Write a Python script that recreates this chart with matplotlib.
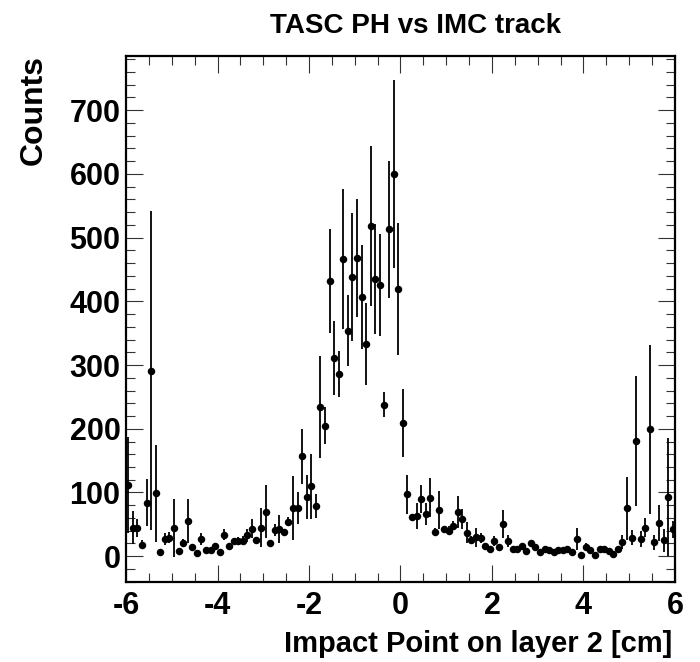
import numpy as np
import matplotlib
matplotlib.use("Agg")
import matplotlib.pyplot as plt
from matplotlib.ticker import MultipleLocator

# histogram: 120 bins of 0.1 cm between -6 and 6
bin_lo, bin_hi, n_bins = -6.0, 6.0, 120

counts = [112, 45, 44, 18, 84, 291, 99, 7, 27, 29,
          44, 8, 21, 55, 14, 5, 27, 9, 9, 16,
          7, 34, 16, 24, 24, 24, 33, 43, 25, 45,
          70, 21, 41, 42, 38, 54, 76, 76, 157, 93,
          110, 79, 234, 205, 432, 311, 286, 466, 354, 438,
          468, 407, 333, 518, 435, 425, 238, 513, 600, 419,
          209, 97, 61, 63, 90, 66, 92, 38, 73, 42,
          40, 48, 69, 58, 37, 26, 30, 29, 16, 12,
          24, 15, 51, 24, 11, 11, 16, 8, 20, 14,
          6, 12, 9, 6, 9, 9, 11, 7, 27, 2,
          15, 9, 2, 11, 12, 8, 3, 12, 22, 75,
          29, 181, 27, 45, 199, 22, 52, 25, 93, 42]

errors = [75, 26, 14, 7, 37, 250, 76, 5, 10, 9,
          45, 4, 6, 34, 4, 3, 10, 3, 3, 5,
          3, 9, 4, 5, 6, 7, 10, 15, 5, 30,
          42, 4, 9, 22, 5, 7, 50, 25, 43, 34,
          51, 19, 80, 29, 82, 58, 36, 110, 56, 100,
          92, 82, 65, 126, 87, 80, 20, 107, 147, 104,
          53, 30, 6, 20, 22, 17, 30, 6, 30, 6,
          7, 7, 25, 16, 17, 5, 15, 8, 5, 4,
          8, 4, 22, 9, 3, 3, 4, 3, 5, 4,
          3, 3, 3, 3, 3, 3, 4, 3, 17, 2,
          5, 3, 2, 4, 4, 3, 2, 4, 11, 50,
          12, 102, 13, 15, 132, 12, 28, 18, 92, 13]

title = "TASC PH vs IMC track"
xlabel = "Impact Point on layer 2 [cm]"
ylabel = "Counts"

plt.rcParams['font.family'] = ['Liberation Sans Narrow', 'Liberation Sans', 'DejaVu Sans']
plt.rcParams['font.weight'] = 'bold'
plt.rcParams['axes.unicode_minus'] = False

edges = np.linspace(bin_lo, bin_hi, n_bins + 1)
centers = 0.5 * (edges[:-1] + edges[1:])

fig = plt.figure(figsize=(7.0, 6.62), dpi=100)
ax = fig.add_axes([126 / 700, 1 - 581.7 / 662, (675 - 126) / 700, (581.7 - 56) / 662])

ax.errorbar(centers, counts, yerr=errors, fmt='o', color='black',
            ms=5.4, elinewidth=1.3, capsize=0, mew=0)

ax.set_xlim(bin_lo, bin_hi)
ax.set_ylim(-40, 785)

ax.xaxis.set_major_locator(MultipleLocator(2))
ax.xaxis.set_minor_locator(MultipleLocator(0.5))
ax.yaxis.set_major_locator(MultipleLocator(100))
ax.yaxis.set_minor_locator(MultipleLocator(20))
ax.tick_params(which='both', direction='in', top=True, right=True, width=0.8, color='#333333')
ax.tick_params(which='major', length=12.5)
ax.tick_params(which='minor', length=6.5)
ax.tick_params(axis='x', which='major', labelsize=22, pad=7)
ax.tick_params(axis='y', which='major', labelsize=22, pad=4)
ax.tick_params(labelright=False, labeltop=False)
for sp in ax.spines.values():
    sp.set_linewidth(1.6)

fig.text(416 / 700, 1 - 33.3 / 662, title, ha='center', va='baseline', fontsize=20, fontweight='bold')
fig.text(672 / 700, 1 - 652 / 662, xlabel, ha='right', va='baseline', fontsize=21, fontweight='bold')
fig.text(34 / 700, 1 - 55 / 662, ylabel, ha='center', va='top', rotation=90, fontsize=23, fontweight='bold')

fig.savefig("out.png", dpi=100)
